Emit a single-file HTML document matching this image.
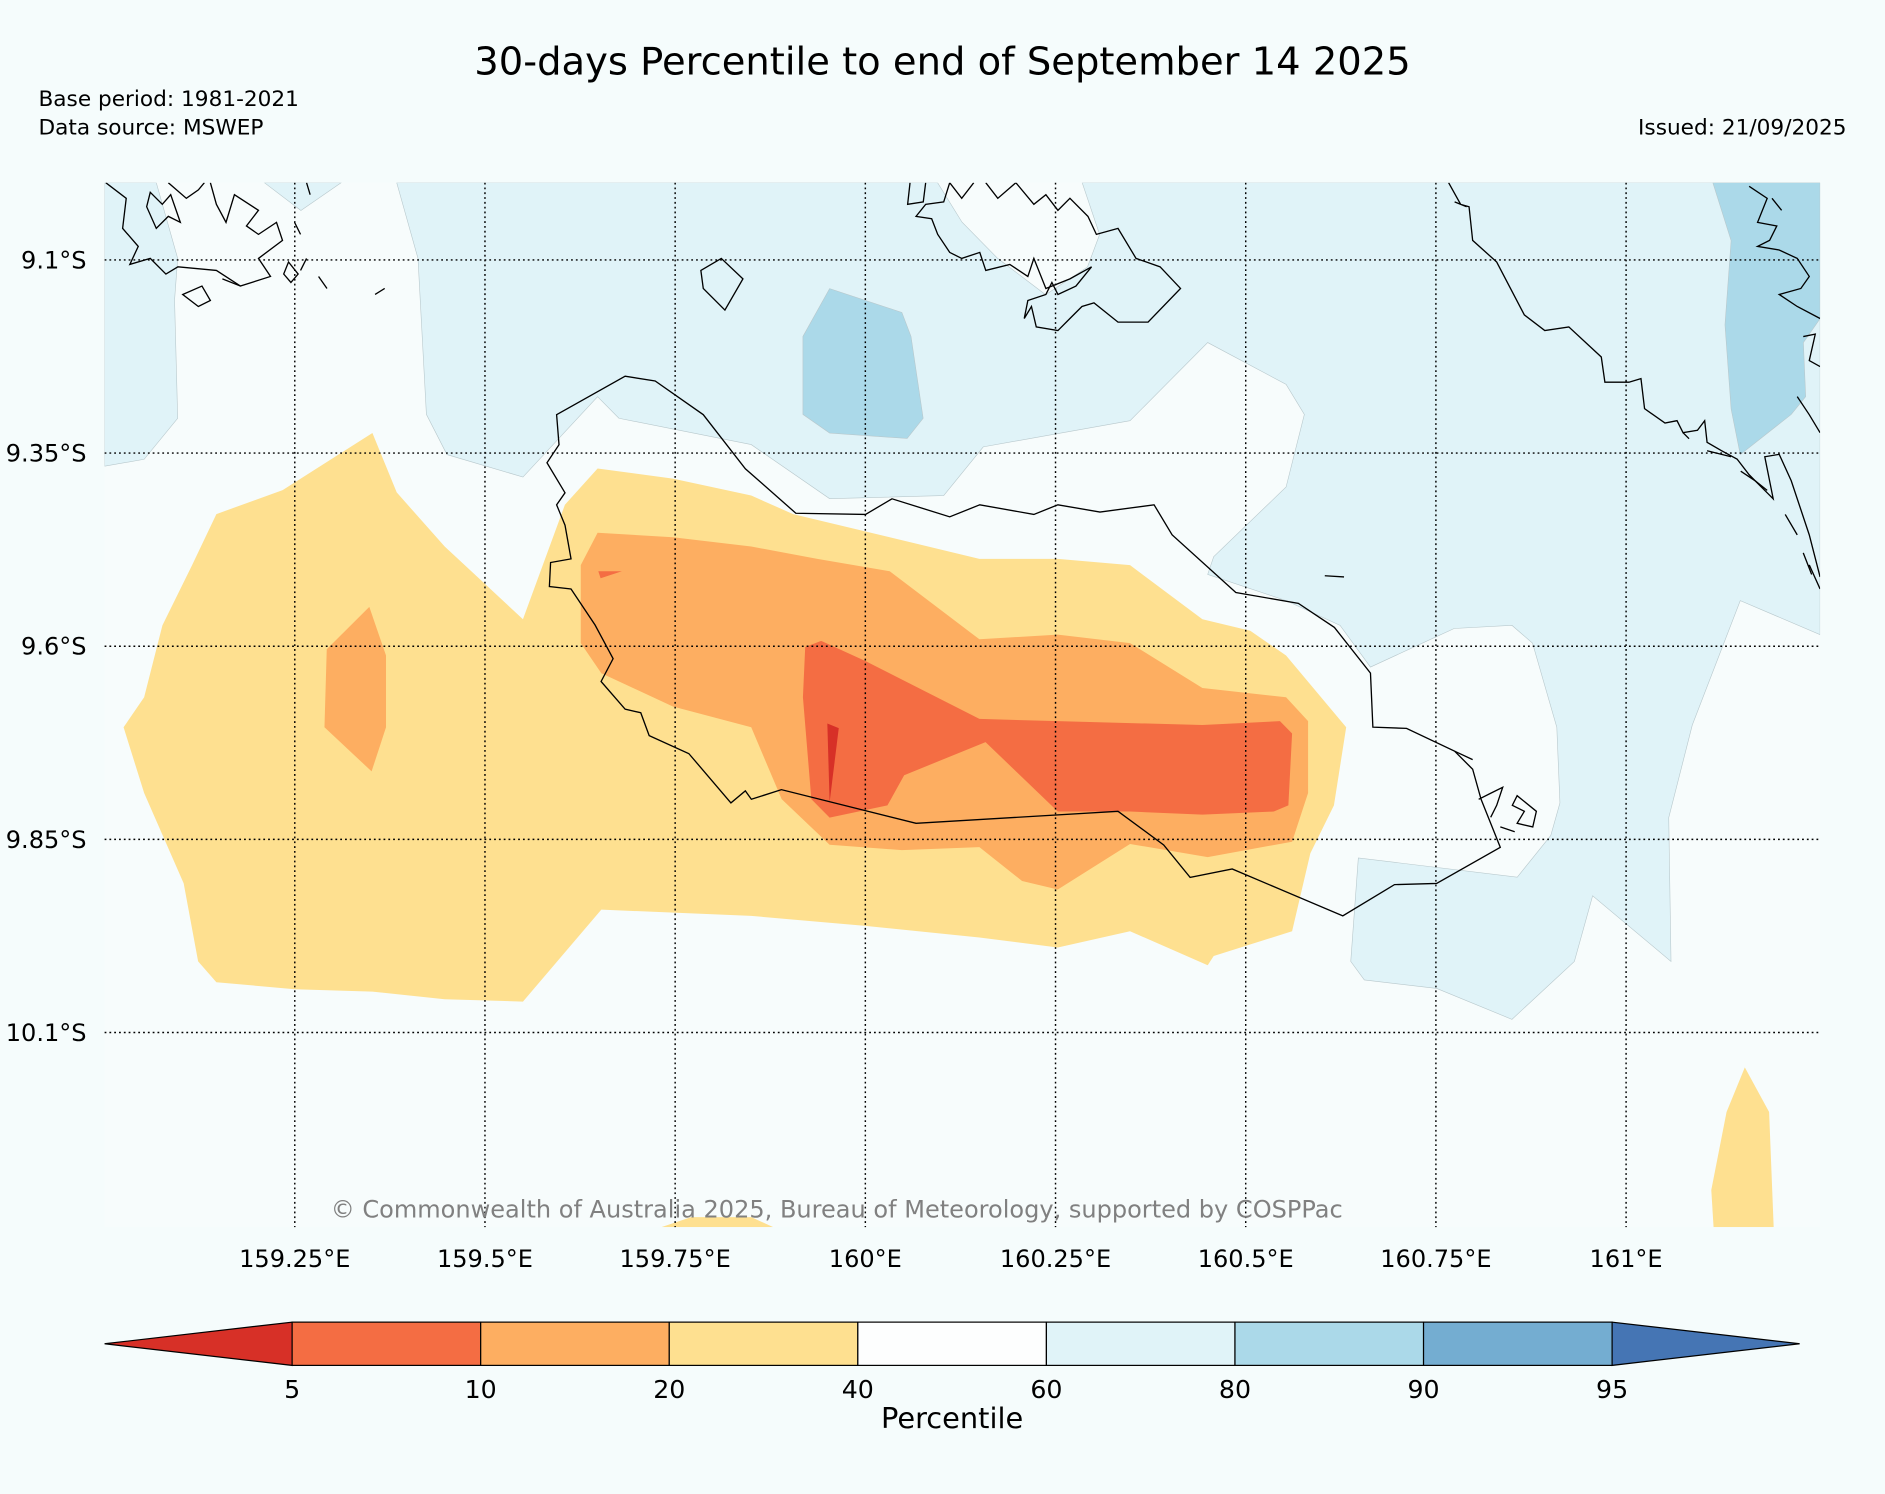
<!DOCTYPE html>
<html><head><meta charset="utf-8"><style>
html,body{margin:0;padding:0;background:#f5fcfc;}
svg{display:block;font-family:"DejaVu Sans","Liberation Sans",sans-serif;}
</style></head><body>
<svg id="chart" width="1885" height="1494" viewBox="0 0 1568 1243" preserveAspectRatio="none" xmlns="http://www.w3.org/2000/svg">
<rect width="1568" height="1243" fill="#f5fcfc"/>
<text x="784" y="62" font-size="32" text-anchor="middle" fill="#000">30-days Percentile to end of September 14 2025</text>
<text x="32" y="88" font-size="18">Base period: 1981-2021</text>
<text x="32" y="112" font-size="18">Data source: MSWEP</text>
<text x="1536" y="112" font-size="18" text-anchor="end">Issued: 21/09/2025</text>
<g id="map"></g>
<g id="cbar"></g>
</svg>
<script>
// ---- data ----
const lonTicks = [159.25, 159.5, 159.75, 160, 160.25, 160.5, 160.75, 161];
const lonTickLabels = ["159.25°E","159.5°E","159.75°E","160°E","160.25°E","160.5°E","160.75°E","161°E"];
const latTicks = [9.1, 9.35, 9.6, 9.85, 10.1];
const latTickLabels = ["9.1°S","9.35°S","9.6°S","9.85°S","10.1°S"];
const cbarBounds = [5, 10, 20, 40, 60, 80, 90, 95];
const cbarColors = ["#d73027","#f46d43","#fdae61","#fee090","#fdfefe","#e0f3f8","#abd9e9","#74add1","#4575b4"];
const polyBlue60Left = [[159,9.0],[159.068,9.0],[159.096,9.098],[159.092,9.152],[159.096,9.305],[159.052,9.358],[159.0,9.367]];
const polyBlue60TopSmall = [[159.210,9.0],[159.258,9.036],[159.311,9.0]];
const polyBlue60Main = [[159.384,9.0],[160.095,9.0],[160.127,9.051],[160.174,9.098],[160.237,9.145],[160.292,9.109],[160.308,9.067],[160.285,9.0],[161.255,9.0],[161.255,9.585],[161.150,9.541],[161.087,9.702],[161.056,9.822],[161.059,10.008],[160.956,9.923],[160.932,10.008],[160.850,10.083],[160.751,10.043],[160.656,10.032],[160.638,10.008],[160.648,9.874],[160.857,9.899],[160.901,9.845],[160.913,9.803],[160.909,9.705],[160.877,9.596],[160.850,9.573],[160.774,9.577],[160.664,9.627],[160.624,9.573],[160.553,9.541],[160.450,9.507],[160.458,9.484],[160.553,9.394],[160.577,9.300],[160.553,9.261],[160.450,9.207],[160.348,9.308],[160.155,9.342],[160.103,9.405],[159.953,9.409],[159.850,9.339],[159.676,9.305],[159.648,9.277],[159.550,9.381],[159.450,9.352],[159.423,9.300],[159.412,9.098]];
const polyBlue80Island = [[159.918,9.199],[159.953,9.137],[160.048,9.168],[160.060,9.199],[160.076,9.305],[160.055,9.331],[159.953,9.324],[159.918,9.300]];
const polyBlue80Right = [[161.114,9.0],[161.255,9.0],[161.255,9.176],[161.233,9.207],[161.236,9.277],[161.217,9.300],[161.150,9.352],[161.138,9.293],[161.130,9.184],[161.138,9.075]];
const polyYellowMain = [[159.025,9.705],[159.052,9.666],[159.076,9.573],[159.115,9.495],[159.147,9.429],[159.234,9.398],[159.352,9.324],[159.384,9.401],[159.447,9.471],[159.550,9.565],[159.605,9.417],[159.648,9.370],[159.747,9.383],[159.850,9.405],[159.905,9.429],[160.032,9.459],[160.150,9.487],[160.253,9.487],[160.348,9.495],[160.443,9.565],[160.506,9.580],[160.553,9.612],[160.632,9.705],[160.616,9.806],[160.585,9.868],[160.561,9.969],[160.458,10.001],[160.450,10.013],[160.348,9.969],[160.253,9.990],[160.150,9.977],[160.000,9.962],[159.850,9.949],[159.653,9.941],[159.550,10.060],[159.447,10.057],[159.352,10.047],[159.250,10.044],[159.147,10.035],[159.123,10.008],[159.104,9.907],[159.052,9.790]];
const polyYellowSE = [[161.112,10.304],[161.132,10.203],[161.156,10.145],[161.188,10.203],[161.194,10.352],[161.115,10.352]];
const polyYellowS = [[159.732,10.352],[159.771,10.339],[159.850,10.339],[159.879,10.352]];
const polyOrangeMain = [[159.626,9.495],[159.648,9.453],[159.747,9.459],[159.850,9.471],[159.937,9.487],[160.032,9.503],[160.150,9.591],[160.253,9.585],[160.348,9.596],[160.443,9.654],[160.553,9.666],[160.582,9.697],[160.582,9.790],[160.561,9.853],[160.450,9.873],[160.348,9.856],[160.253,9.915],[160.206,9.904],[160.150,9.860],[160.048,9.864],[159.953,9.857],[159.890,9.798],[159.850,9.705],[159.747,9.678],[159.653,9.635],[159.626,9.596]];
const polyOrangeWest = [[159.292,9.604],[159.348,9.549],[159.370,9.612],[159.370,9.705],[159.351,9.762],[159.289,9.705]];
const polyRedMain = [[159.921,9.601],[159.942,9.593],[160.000,9.619],[160.150,9.694],[160.253,9.697],[160.443,9.702],[160.545,9.697],[160.561,9.713],[160.556,9.806],[160.537,9.814],[160.443,9.818],[160.348,9.814],[160.253,9.814],[160.158,9.724],[160.051,9.767],[160.029,9.806],[159.953,9.822],[159.929,9.798],[159.918,9.666]];
const polyRedSmall = [[159.649,9.503],[159.680,9.503],[159.652,9.512]];
const polyDarkRed = [[159.950,9.700],[159.965,9.706],[159.953,9.802]];
const polygons = [
 [polyBlue60Left,5,"contour-60-80-west"],[polyBlue60TopSmall,5,"contour-60-80-north"],[polyBlue60Main,5,"contour-60-80-main"],
 [polyBlue80Island,6,"contour-80-90-center"],[polyBlue80Right,6,"contour-80-90-east"],
 [polyYellowMain,3,"contour-20-40-main"],[polyYellowSE,3,"contour-20-40-southeast"],[polyYellowS,3,"contour-20-40-south"],
 [polyOrangeMain,2,"contour-10-20-main"],[polyOrangeWest,2,"contour-10-20-west"],
 [polyRedMain,1,"contour-5-10-main"],[polyRedSmall,1,"contour-5-10-small"],[polyDarkRed,0,"contour-below-5"]
];
// ---- axes ----
const X0=87, X1=1514, Y0=152, Y1=1021, LON0=159.0, LON1=161.255, LAT0=9.0, LAT1=10.352;
const xS = lon => X0 + (lon-LON0)/(LON1-LON0)*(X1-X0);
const yS = lat => Y0 + (lat-LAT0)/(LAT1-LAT0)*(Y1-Y0);
const NS="http://www.w3.org/2000/svg";
function mk(tag, attrs, parent){const e=document.createElementNS(NS,tag);for(const k in attrs)e.setAttribute(k,attrs[k]);parent.appendChild(e);return e;}
const map=document.getElementById('map');
const bg=mk('rect',{x:X0,y:Y0,width:X1-X0,height:Y1-Y0,fill:"#f7fcfc"},map);


const clip=mk('clipPath',{id:'mclip'},map);mk('rect',{x:X0,y:Y0,width:X1-X0,height:Y1-Y0},clip);
const layer=mk('g',{'clip-path':'url(#mclip)'},map);
polygons.forEach(p=>{
  const pts=p[0].map(d=>xS(d[0]).toFixed(1)+","+yS(d[1]).toFixed(1)).join(" ");
  const el=mk('polygon',{points:pts,fill:cbarColors[p[1]],stroke:p[1]>=5?"#b8c8cc":"none","stroke-width":p[1]>=5?0.5:0},layer);
  
  
});
const coast=mk('g',{fill:"none",stroke:"#000","stroke-width":1.1},layer);


const coastPaths=[
"M463,345 L520,313 L545,317 L585,345 L620,390 L662,427 L720,428 L742,415 L790,430 L815,420 L860,428 L880,420 L915,426 L960,420 L975,445 L1028,493 L1080,502 L1110,522 L1140,560 L1142,605 L1170,606 L1210,625 L1225,640 L1232,665 L1248,705 L1195,735 L1160,736 L1117,762 L1025,723 L990,730 L968,703 L930,675 L762,685 L650,657 L625,665 L620,658 L608,668 L573,627 L540,612 L533,593 L520,590 L500,567 L510,548 L495,520 L475,490 L457,488 L458,468 L475,465 L470,437 L463,420 L470,410 L455,385 L465,370 Z",
"M88,152 L105,165 L102,190 L115,205 L108,220 L125,215 L138,228 L148,222 L180,225 L200,238 L225,230 L215,215 L235,200 L230,185 L215,195 L205,188 L215,175 L195,162 L188,185 L180,170 L175,152 M140,152 L155,165 L165,158 L170,152 M125,160 L135,170 L142,162 L150,185 L140,180 L130,190 L122,172 Z",
"M152,245 L168,238 L175,250 L165,255 Z M185,232 L200,238 M240,218 L248,228 L242,235 L236,228 Z M265,230 L272,240 M312,245 L320,240 M245,185 L250,195 M255,152 L258,162 M250,225 L255,215",
"M583,225 L600,215 L618,232 L603,258 L585,240 Z",
"M757,152 L755,170 L768,168 L770,152 M790,152 L800,165 L810,152 M820,152 L830,165 L845,152 L860,170 L870,162 L880,175 L890,165 L905,180 L912,195 L930,190 L945,215 L965,222 L982,240 L955,268 L930,268 L910,252 L900,255 L890,265 L880,275 L862,272 L858,255 L852,265 L855,250 L870,245 L875,235 L880,245 L895,238 L908,222 L890,232 L870,240 L860,215 L855,230 L840,220 L820,225 L815,210 L800,215 L790,210 L780,195 L775,182 L762,180 L770,170 L785,168 L790,152",
"M1205,152 L1215,170 L1222,172 L1225,200 L1245,218 L1268,262 L1285,275 L1305,272 L1332,297 L1335,318 L1355,318 L1365,315 L1368,340 L1385,352 L1395,350 L1400,360 L1412,358 L1418,350 L1420,368 L1432,375 L1445,382 L1455,395 L1470,410 L1475,415 L1468,380 L1480,378 L1490,400 L1505,445 L1514,480 M1485,428 L1495,445 M1500,460 L1507,478 M1505,470 L1514,490 M1102,479 L1118,480 M1210,168 L1220,172",
"M1474,165 L1482,175 M1455,155 L1470,165 L1462,185 L1478,188 L1472,200 L1462,205 L1480,208 L1495,215 L1505,230 L1498,240 L1480,245 L1495,255 L1514,265 M1500,280 L1510,278 L1505,300 L1514,305 M1495,330 L1505,345 L1514,360 M1400,360 L1405,365 M1420,375 L1440,380 M1448,392 L1460,400 L1470,408",
"M1210,625 L1225,632 M1230,665 L1240,660 L1250,655 L1245,670 L1240,680 M1262,662 L1278,675 L1275,688 L1262,685 L1268,675 L1258,670 Z M1248,688 L1260,692"
];
coastPaths.forEach((d,i)=>{const p=mk('path',{d:d},coast);

});
const grid=mk('g',{stroke:"#000","stroke-width":1.2,"stroke-dasharray":"1.5,2.5"},map);


lonTicks.forEach((v,i)=>{const x=xS(v);
 const l=mk('line',{x1:x,x2:x,y1:Y0,y2:Y1},grid);
 
 
 const t=mk('text',{x:x,y:1054,"font-size":20,"text-anchor":"middle"},map);t.textContent=lonTickLabels[i];
 
 });
latTicks.forEach((v,i)=>{const y=yS(v);
 const l=mk('line',{x1:X0,x2:X1,y1:y,y2:y},grid);
 
 
 const t=mk('text',{x:72,y:y+7,"font-size":20,"text-anchor":"end"},map);t.textContent=latTickLabels[i];
 
 });
const cp=mk('text',{x:696,y:1013,"font-size":20,"text-anchor":"middle",fill:"#808080"},map);
cp.textContent="© Commonwealth of Australia 2025, Bureau of Meteorology, supported by COSPPac";


const cb=document.getElementById('cbar');
const CBX0=243, CBX1=1341, CBY0=1100, CBY1=1136, TIPL=87, TIPR=1497;
const nb=cbarBounds.length-1;
const cbx=i=>CBX0+i*(CBX1-CBX0)/nb;
const tl=mk('polygon',{points:`${TIPL},${(CBY0+CBY1)/2} ${CBX0},${CBY0} ${CBX0},${CBY1}`,fill:cbarColors[0],stroke:"#000","stroke-width":1},cb);


for(let i=0;i<nb;i++){
 const r=mk('rect',{x:cbx(i),y:CBY0,width:cbx(i+1)-cbx(i),height:CBY1-CBY0,fill:cbarColors[i+1],stroke:"#000","stroke-width":1},cb);
 
 
}
const tr=mk('polygon',{points:`${TIPR},${(CBY0+CBY1)/2} ${CBX1},${CBY0} ${CBX1},${CBY1}`,fill:cbarColors[8],stroke:"#000","stroke-width":1},cb);


cbarBounds.forEach((v,i)=>{const t=mk('text',{x:cbx(i),y:1163,"font-size":21,"text-anchor":"middle"},cb);t.textContent=v;
 
 });
const ct=mk('text',{x:792,y:1188,"font-size":24,"text-anchor":"middle"},cb);ct.textContent="Percentile";


</script>
</body></html>
